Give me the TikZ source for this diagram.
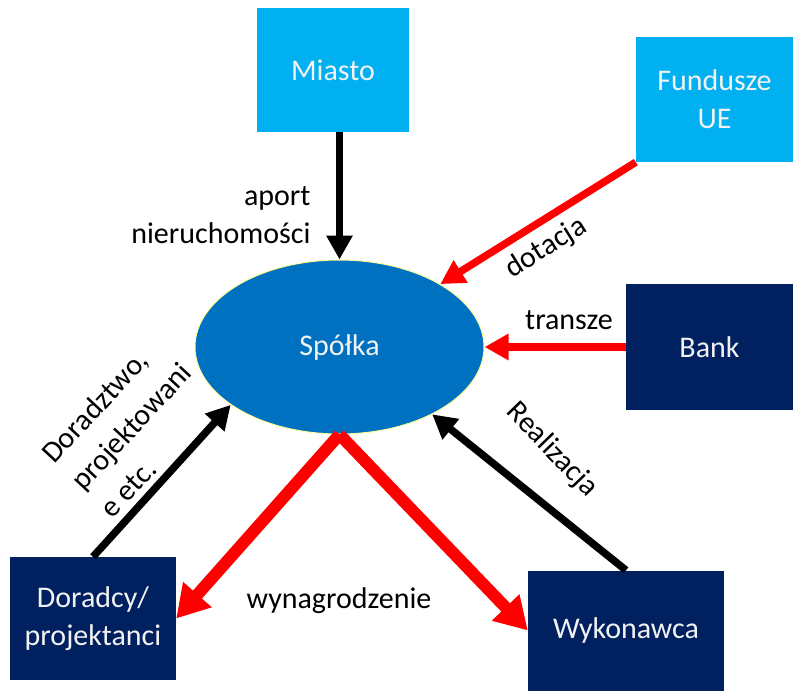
\documentclass[tikz,border=0pt]{standalone}
\usepackage{fontspec}
\setmainfont{Carlito}
\usetikzlibrary{arrows.meta,shapes.geometric}
\definecolor{spblue}{HTML}{0070C0}
\definecolor{splight}{HTML}{00B0F0}
\definecolor{spnavy}{HTML}{002060}
\definecolor{spred}{HTML}{FF0000}
\definecolor{sptext}{HTML}{F2F2F2}
\definecolor{sprim}{HTML}{FFFF99}

\begin{document}
\begin{tikzpicture}[x=1pt,y=-1pt,
   box/.style={inner sep=0pt,align=center,text=sptext,
               font=\fontsize{30}{38}\selectfont},
   lightbox/.style={box,fill=splight},
   darkbox/.style={box,fill=spnavy},
   lbl/.style={font=\fontsize{30}{38}\selectfont,align=center},
   ar/.style={-{Triangle[length=24pt,width=25pt]},line width=7.5pt},
   fat/.style={-{Triangle[length=32pt,width=36pt]},line width=12pt}]
  \useasboundingbox (0,0) rectangle (793,693);
  % nodes
  \node[lightbox,minimum width=152pt,minimum height=124pt] (Miasto) at (333,70) {Miasto};
  \node[lightbox,minimum width=157pt,minimum height=125pt] (Fundusze) at (714.5,99.5) {Fundusze\\UE};
  \node[darkbox,minimum width=167pt,minimum height=126pt] (Bank) at (709.5,347) {Bank};
  \node[darkbox,minimum width=196pt,minimum height=120pt] (Wykonawca) at (626,630.5) {Wykonawca};
  \node[darkbox,minimum width=166pt,minimum height=123pt] (Doradcy) at (93,618.5) {Doradcy/\\projektanci};
  \node[ellipse,fill=spblue,draw=sprim,line width=1pt,minimum width=289pt,
        minimum height=174pt,text=sptext,font=\fontsize{30}{38}\selectfont] (Spolka) at (339.5,347) {Spółka};
  % flows
  \draw[ar] (Spolka |- Miasto.south) -- (Spolka);
  \draw[ar,spred] (Fundusze.south west) -- (Spolka);
  \draw[ar,spred] (Bank.west) -- (Spolka);
  \draw[ar] (Wykonawca.north) -- (Spolka.-36);
  \draw[ar] (Doradcy.north) -- (Spolka.208);
  \draw[fat,spred] (Spolka.south) -- (Doradcy.east);
  \draw[fat,spred] (Spolka.south) -- (Wykonawca.west);
  % labels
  \node[lbl,align=right,anchor=east] (aport) at (314,215) {aport\\nieruchomości};
  \node[lbl,rotate=32] (dotacja) at (546,248) {dotacja};
  \node[lbl] (transze) at (569,320) {transze};
  \node[lbl,rotate=-46] (realizacja) at (552,450) {Realizacja};
  \node[lbl,rotate=47,align=left,anchor=west,inner sep=0pt,
        font=\fontsize{30}{40}\selectfont] (doradztwo) at (76,485) {Doradztwo,\\projektowani\\e etc.};
  \node[lbl] (wynagrodzenie) at (339,601) {wynagrodzenie};
\end{tikzpicture}
\end{document}
